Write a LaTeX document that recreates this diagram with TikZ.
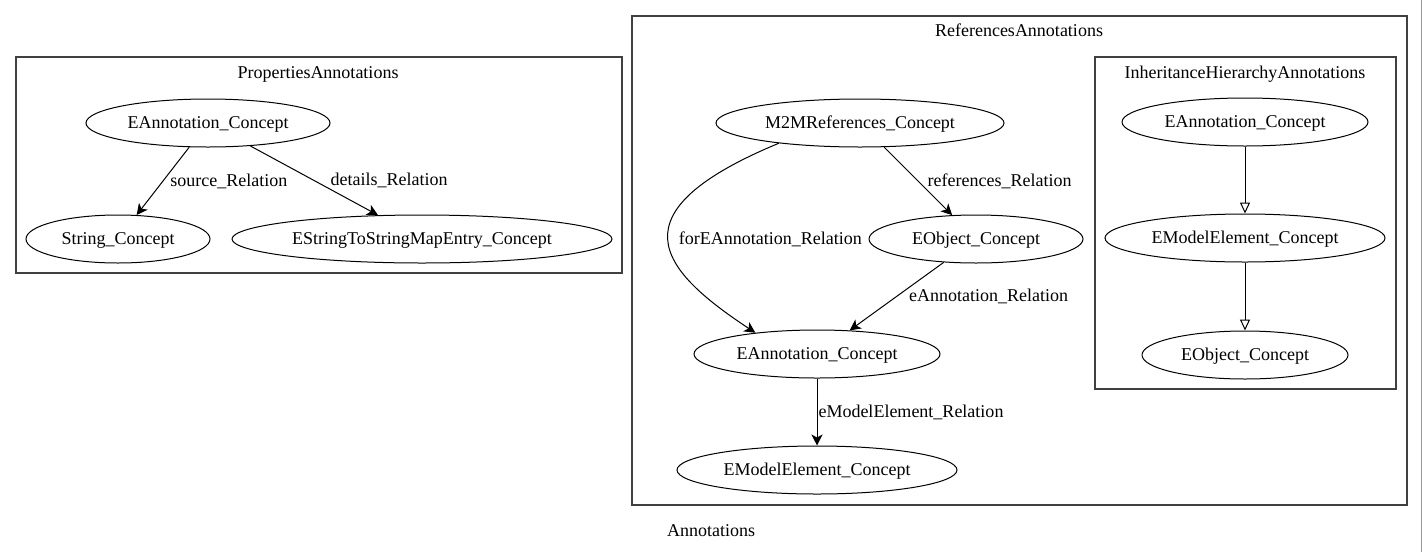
\documentclass[tikz,border=0pt]{standalone}
\usepackage{fontspec}
\setmainfont{Liberation Serif}
\usetikzlibrary{arrows.meta,shapes.geometric}

\tikzset{
  concept/.style={draw, ellipse, line width=1pt, minimum height=48pt, inner sep=0pt, text height=12pt, text depth=2pt},
  cluster/.style={draw=black!75, line width=1.3pt},
  rel/.style={draw, line width=1pt, -{Stealth[length=11pt,width=11pt,inset=3pt]}},
  inherit/.style={draw, line width=1pt, -{Triangle[open,length=11pt,width=10pt]}},
  lbl/.style={inner sep=0pt, anchor=west, text height=12pt, text depth=2pt},
  title/.style={inner sep=0pt, anchor=base},
}
\newcommand{\cname}[1]{\makebox[0pt]{#1}}

\begin{document}
\begin{tikzpicture}[x=1pt, y=-1pt, font=\fontsize{18}{22}\selectfont]
    \useasboundingbox (0,0) rectangle (1423,552);
    % clusters
    \draw[cluster] (16,57) rectangle (622,273);
    \draw[cluster] (632,16) rectangle (1407,505);
    \draw[cluster] (1095,57) rectangle (1396,389);
    \draw[black!40, line width=1.5pt] (1421.5,0) -- (1421.5,552);
    \node[title] (tprop) at (318,78) {PropertiesAnnotations};
    \node[title] (trefs) at (1019,36) {ReferencesAnnotations};
    \node[title] (tinh) at (1245,78) {InheritanceHierarchyAnnotations};
    \node[title] (tall) at (711,536) {Annotations};

    % PropertiesAnnotations
    \node[concept, minimum width=244pt] (pa) at (208,123) {\cname{EAnnotation\_Concept}};
    \node[concept, minimum width=184pt] (ps) at (118,239) {\cname{String\_Concept}};
    \node[concept, minimum width=380pt] (pm) at (422,239) {\cname{EStringToStringMapEntry\_Concept}};
    \draw[rel] (pa) -- node[lbl, xshift=7pt] (lsource) {source\_Relation} (ps);
    \draw[rel] (pa) -- node[lbl, xshift=16pt] (ldetails) {details\_Relation} (pm);

    % ReferencesAnnotations
    \node[concept, minimum width=288pt] (rm) at (860,123) {\cname{M2MReferences\_Concept}};
    \node[concept, minimum width=214pt] (ro) at (976,239) {\cname{EObject\_Concept}};
    \node[concept, minimum width=246pt] (ra) at (817,354) {\cname{EAnnotation\_Concept}};
    \node[concept, minimum width=280pt] (re) at (817,470) {\cname{EModelElement\_Concept}};
    \draw[rel] (rm.194) .. controls +(-166,69) and +(-97,-64) .. node[lbl, xshift=10pt] (lfor) {forEAnnotation\_Relation} (ra.161);
    \draw[rel] (rm) -- node[lbl, xshift=9pt] (lrefs) {references\_Relation} (ro);
    \draw[rel] (ro) -- node[lbl, xshift=12pt] (lann) {eAnnotation\_Relation} (ra);
    \draw[rel] (ra) -- node[lbl, xshift=1pt] (lelem) {eModelElement\_Relation} (re);

    % InheritanceHierarchyAnnotations
    \node[concept, minimum width=246pt] (ia) at (1245,122) {\cname{EAnnotation\_Concept}};
    \node[concept, minimum width=280pt] (ie) at (1245,238) {\cname{EModelElement\_Concept}};
    \node[concept, minimum width=206pt] (io) at (1245,355) {\cname{EObject\_Concept}};
    \draw[inherit] (ia) -- (ie);
    \draw[inherit] (ie) -- (io);
\end{tikzpicture}
\end{document}
